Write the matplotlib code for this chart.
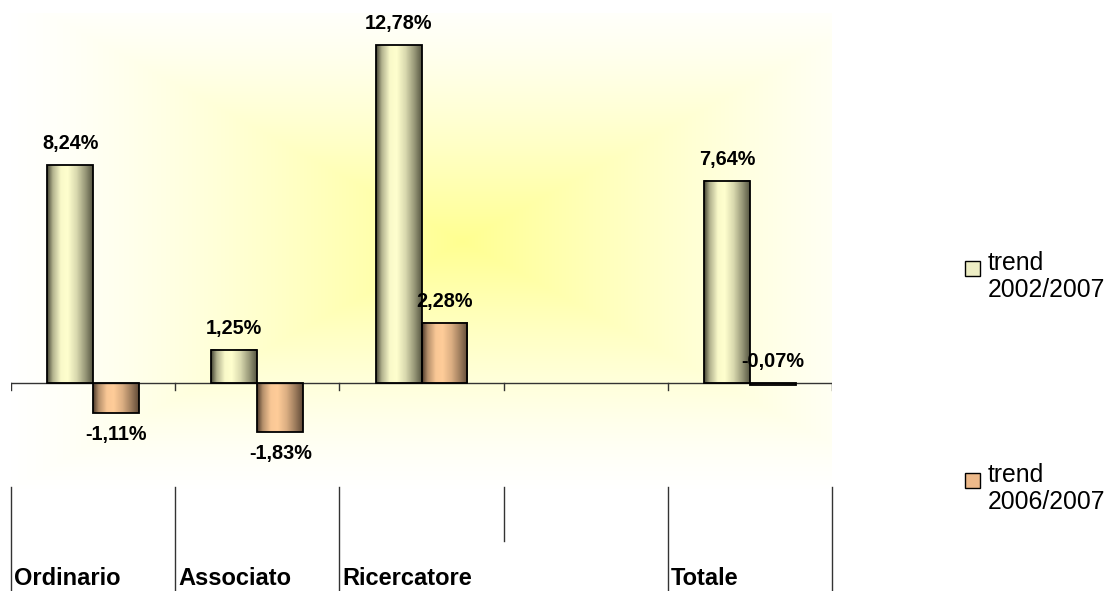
import numpy as np
import matplotlib
matplotlib.use("Agg")
import matplotlib.pyplot as plt
from matplotlib.patches import Rectangle
from matplotlib.lines import Line2D
import matplotlib.transforms as mtrans

plt.rcParams['font.family'] = ['Liberation Sans', 'DejaVu Sans']

categories = ["Ordinario", "Associato", "Ricercatore", "", "Totale"]
series_names = ["trend\n2002/2007", "trend\n2006/2007"]
trend_2002_2007 = [8.24, 1.25, 12.78, None, 7.64]
trend_2006_2007 = [-1.11, -1.83, 2.28, None, -0.07]

light_cols = [np.array([255, 255, 206]) / 255, np.array([255, 204, 153]) / 255]
dark_cols = [np.array([60, 60, 44]) / 255, np.array([70, 52, 38]) / 255]
legend_cols = ["#ededc4", "#edb98a"]

W, H, DPI = 11.08, 5.91, 100
fig = plt.figure(figsize=(W, H), dpi=DPI)
fig.patch.set_facecolor("white")
pw, ph = W * DPI, H * DPI
ax = fig.add_axes([11 / pw, 1 - 489 / ph, (832 - 11) / pw, (489 - 13) / ph])
for s in ax.spines.values():
    s.set_visible(False)
ax.set_xticks([])
ax.set_yticks([])

# background gradient (rectangular, from centre)
nx, ny = 400, 300
gx = np.linspace(0, 1, nx)
gy = np.linspace(0, 1, ny)
X, Y = np.meshgrid(gx, gy)
t = np.maximum(np.abs(X - 0.55) / 0.56, np.abs(Y - 0.52) / 0.53)
t = np.clip(t, 0, 1)
inten = (1 - t) ** 1.35
yellow = np.array([255, 255, 145]) / 255
img = np.ones((ny, nx, 3)) * (1 - inten[..., None]) + yellow * inten[..., None]
ax.imshow(img, extent=(0, 1, 0, 1), transform=ax.transAxes, aspect='auto',
          origin='lower', zorder=0, interpolation='bilinear')

bw = 0.28
prof_x = [0.0, 0.12, 0.3, 0.45, 0.65, 0.85, 1.0]
prof_f = [0.05, 0.6, 0.97, 1.0, 0.8, 0.45, 0.15]
xs = np.linspace(0, 1, 64)
f = np.interp(xs, prof_x, prof_f)

def fmt(v):
    return f"{v:.2f}".replace(".", ",") + "%"

all_series = [trend_2002_2007, trend_2006_2007]
for si, vals in enumerate(all_series):
    grad = dark_cols[si] + f[:, None] * (light_cols[si] - dark_cols[si])
    grad = grad[None, :, :]
    for i, v in enumerate(vals):
        if v is None:
            continue
        x0 = i - bw if si == 0 else i
        ax.imshow(grad, extent=(x0, x0 + bw, min(0, v), max(0, v)), aspect='auto',
                  origin='lower', zorder=2, interpolation='bilinear')
        ax.add_patch(Rectangle((x0, 0), bw, v, fill=False, edgecolor='black',
                               lw=1.3, zorder=3))
        above = v >= 0 or abs(v) < 0.3
        ax.annotate(fmt(v), xy=(x0 + bw / 2, v if v >= 0 else (0 if above else v)),
                    xytext=(0, 15.5 if above else -15.5), textcoords='offset points',
                    ha='center', va='center', fontsize=14.3, fontweight='bold',
                    zorder=4)

ax.set_xlim(-0.5, len(categories) - 0.5)
ax.set_ylim(-4, 14)

# category axis line and ticks
ax.plot([-0.5, len(categories) - 0.5], [0, 0], color='#333333', lw=1.0, zorder=2.5)
bounds = np.arange(len(categories) + 1) - 0.5
for b in bounds:
    ax.plot([b, b], [0, -0.27], color='#333333', lw=1.0, zorder=2.5)

# category label area
bt = mtrans.blended_transform_factory(ax.transData, fig.transFigure)
for k, b in enumerate(bounds):
    ybot = 1 - 590 / ph
    if k == 3:
        ybot = 1 - 541 / ph
    fig.add_artist(Line2D([b, b], [1 - 487 / ph, ybot], transform=bt,
                          color='#333333', lw=1.0))
for i, c in enumerate(categories):
    if c:
        fig.text(i - 0.5 + 0.02, 1 - 585 / ph, c, transform=bt, ha='left',
                 va='baseline', fontsize=17, fontweight='bold')

# legend
for si, name in enumerate(series_names):
    ytop = [261, 473][si]
    fig.add_artist(Rectangle((965 / pw, 1 - (ytop + 15) / ph), 15 / pw, 15 / ph,
                             transform=fig.transFigure, facecolor=legend_cols[si],
                             edgecolor='black', lw=1.0))
    fig.text(988 / pw, 1 - (ytop - 10) / ph, name, ha='left', va='top',
             fontsize=17.8, linespacing=1.15)

fig.savefig("out.png", dpi=DPI)
